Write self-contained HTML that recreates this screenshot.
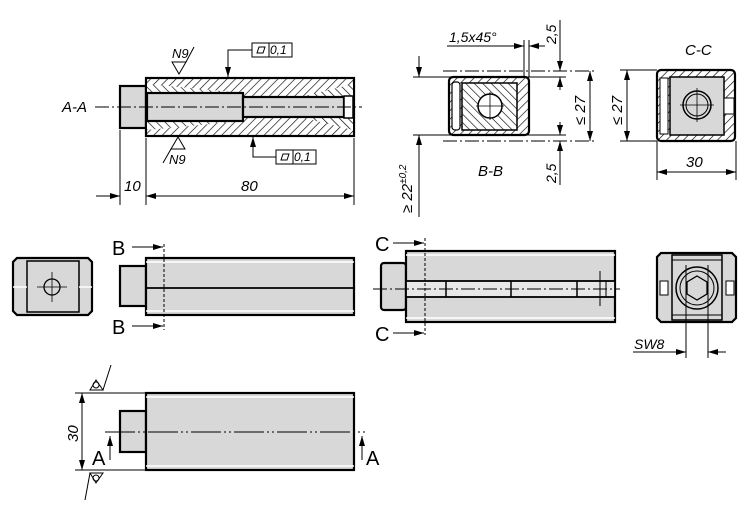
<!DOCTYPE html>
<html><head><meta charset="utf-8"><style>
html,body{margin:0;padding:0;background:#fff;width:750px;height:513px;overflow:hidden}
svg{display:block}
text{font-family:"Liberation Sans",sans-serif;font-style:italic;fill:#000}
</style></head><body>
<svg width="750" height="513" viewBox="0 0 750 513" xmlns="http://www.w3.org/2000/svg">
<defs>
<pattern id="h1" width="6" height="6" patternUnits="userSpaceOnUse" patternTransform="rotate(45)"><rect width="6" height="6" fill="#fff"/><line x1="0" y1="0" x2="0" y2="6" stroke="#000" stroke-width="1.3"/></pattern>
<pattern id="h2" width="6" height="6" patternUnits="userSpaceOnUse" patternTransform="rotate(-45)"><rect width="6" height="6" fill="#fff"/><line x1="0" y1="0" x2="0" y2="6" stroke="#000" stroke-width="1.3"/></pattern>
<marker id="ar" viewBox="0 0 10 6" refX="10" refY="3" markerWidth="10" markerHeight="6" markerUnits="userSpaceOnUse" orient="auto-start-reverse"><path d="M0,0L10,3L0,6z" fill="#000"/></marker>
</defs>
<g stroke="#000" fill="none">
<!-- A-A section -->
<rect x="120" y="86" width="26" height="42" fill="#d8d8d8" stroke-width="2.2"/>
<rect x="146" y="78" width="208" height="58" fill="url(#h1)" stroke-width="2.2"/>
<path d="M147,84 L243,93 L243,121 L147,130 Z" fill="url(#h2)" stroke="none"/>
<path d="M353,84 L300,97 L300,117 L353,130 Z" fill="url(#h2)" stroke="none"/>
<rect x="147" y="93" width="96" height="28" fill="#d8d8d8" stroke-width="2.2"/>
<rect x="243" y="97" width="101" height="20" fill="#d8d8d8" stroke-width="2.2"/>
<rect x="344" y="96" width="9" height="22" fill="#fff" stroke-width="1.5"/>
<line x1="95" y1="107" x2="362" y2="107" stroke-width="1" stroke-dasharray="14,3,2,3"/>
<line x1="120" y1="130" x2="120" y2="205" stroke-width="1"/>
<line x1="146" y1="138" x2="146" y2="205" stroke-width="1"/>
<line x1="354" y1="138" x2="354" y2="205" stroke-width="1"/>
<line x1="96" y1="196" x2="120" y2="196" stroke-width="1" marker-end="url(#ar)"/>
<line x1="146" y1="196" x2="354" y2="196" stroke-width="1" marker-start="url(#ar)" marker-end="url(#ar)"/>
<path d="M172,62 L186,62 L179,74 Z" stroke-width="1"/>
<line x1="186" y1="62" x2="194" y2="47" stroke-width="1"/>
<path d="M252,50 L228,50 L228,77" stroke-width="1" marker-end="url(#ar)"/>
<rect x="252" y="43" width="40" height="14" stroke-width="1"/>
<line x1="269" y1="43" x2="269" y2="57" stroke-width="1"/>
<path d="M257,53 L259,47 L265,47 L263,53Z" stroke-width="1"/>
<path d="M171,149 L185,149 L178,137 Z" stroke-width="1"/>
<line x1="171" y1="149" x2="163" y2="163" stroke-width="1"/>
<path d="M276,157 L253,157 L253,137" stroke-width="1" marker-end="url(#ar)"/>
<rect x="276" y="150" width="40" height="14" stroke-width="1"/>
<line x1="293" y1="150" x2="293" y2="164" stroke-width="1"/>
<path d="M281,160 L283,154 L289,154 L287,160Z" stroke-width="1"/>

<!-- B-B -->
<line x1="443" y1="71" x2="596" y2="71" stroke-width="1" stroke-dasharray="14,3,2,3"/>
<line x1="443" y1="141" x2="596" y2="141" stroke-width="1" stroke-dasharray="14,3,2,3"/>
<line x1="413" y1="77" x2="566" y2="77" stroke-width="1"/>
<line x1="413" y1="135" x2="566" y2="135" stroke-width="1"/>
<rect x="449" y="77" width="80" height="58" rx="4" fill="url(#h1)" stroke-width="2.2"/>
<rect x="462" y="83" width="55" height="47" fill="url(#h2)" stroke-width="1.5"/>
<rect x="452" y="82" width="8" height="48" rx="3" fill="#fff" stroke-width="1.2"/>
<circle cx="490" cy="106" r="12" fill="#fff" stroke-width="1.5"/>
<line x1="476" y1="106" x2="504" y2="106" stroke-width="0.8"/><line x1="490" y1="92" x2="490" y2="120" stroke-width="0.8"/>
<line x1="419" y1="56" x2="419" y2="77" stroke-width="1" marker-end="url(#ar)"/>
<line x1="419" y1="217" x2="419" y2="135" stroke-width="1" marker-end="url(#ar)"/>
<line x1="590" y1="71" x2="590" y2="141" stroke-width="1" marker-start="url(#ar)" marker-end="url(#ar)"/>
<line x1="560" y1="20" x2="560" y2="71" stroke-width="1" marker-end="url(#ar)"/>
<line x1="560" y1="77" x2="560" y2="90" stroke-width="1" marker-start="url(#ar)"/>
<line x1="560" y1="122" x2="560" y2="135" stroke-width="1" marker-end="url(#ar)"/>
<line x1="560" y1="185" x2="560" y2="141" stroke-width="1" marker-end="url(#ar)"/>
<line x1="447" y1="46" x2="524" y2="46" stroke-width="1" marker-end="url(#ar)"/>
<line x1="545" y1="46" x2="529" y2="46" stroke-width="1" marker-end="url(#ar)"/>
<line x1="524" y1="40" x2="524" y2="77" stroke-width="1"/><line x1="529" y1="40" x2="529" y2="77" stroke-width="1"/>

<!-- C-C -->
<rect x="657" y="70" width="78" height="71" rx="4" fill="url(#h1)" stroke-width="2.2"/>
<rect x="670" y="77" width="54" height="58" fill="#d8d8d8" stroke-width="1.5"/>
<rect x="660" y="78" width="8" height="56" fill="#fff" stroke-width="1"/>
<rect x="724" y="98" width="10" height="16" fill="#fff" stroke-width="1"/>
<circle cx="697" cy="105" r="14" stroke-width="1.5"/><circle cx="697" cy="105" r="11" stroke-width="1"/>
<line x1="680" y1="105" x2="714" y2="105" stroke-width="0.8"/><line x1="697" y1="88" x2="697" y2="122" stroke-width="0.8"/>
<line x1="620" y1="70" x2="657" y2="70" stroke-width="1"/><line x1="620" y1="141" x2="657" y2="141" stroke-width="1"/>
<line x1="627" y1="70" x2="627" y2="141" stroke-width="1" marker-start="url(#ar)" marker-end="url(#ar)"/>
<line x1="657" y1="141" x2="657" y2="180" stroke-width="1"/><line x1="736" y1="141" x2="736" y2="180" stroke-width="1"/>
<line x1="657" y1="172" x2="736" y2="172" stroke-width="1" marker-start="url(#ar)" marker-end="url(#ar)"/>

<!-- middle left end view -->
<path d="M17,258 L88,258 L92,262 L92,311 L88,315 L17,315 L13,311 L13,262Z" fill="#d8d8d8" stroke-width="2.2"/>
<rect x="27" y="261" width="52" height="51" stroke-width="1.5"/>
<line x1="13" y1="287" x2="27" y2="287" stroke="#fff" stroke-width="1.5"/>
<line x1="79" y1="287" x2="92" y2="287" stroke="#fff" stroke-width="1.5"/>
<circle cx="52" cy="287" r="8" stroke-width="1.3"/>
<line x1="37" y1="287" x2="67" y2="287" stroke-width="0.8"/><line x1="52" y1="272" x2="52" y2="302" stroke-width="0.8"/>
<!-- middle side view -->
<rect x="120" y="266" width="26" height="40" fill="#d8d8d8" stroke-width="2.2"/>
<rect x="146" y="258" width="208" height="57" fill="#d8d8d8" stroke-width="2.2"/>
<line x1="146" y1="262" x2="354" y2="262" stroke="#fff" stroke-width="1.5"/>
<line x1="146" y1="311" x2="354" y2="311" stroke="#fff" stroke-width="1.5"/>
<line x1="146" y1="288" x2="354" y2="288" stroke-width="1.8"/>
<line x1="164" y1="244" x2="164" y2="330" stroke-width="1" stroke-dasharray="3,2"/>
<line x1="132" y1="247" x2="163" y2="247" stroke-width="1" marker-end="url(#ar)"/>
<line x1="132" y1="326" x2="163" y2="326" stroke-width="1" marker-end="url(#ar)"/>

<!-- middle right side view -->
<rect x="381" y="263" width="25" height="47" rx="3" fill="#d8d8d8" stroke-width="2.2"/>
<rect x="406" y="251" width="209" height="71" fill="#d8d8d8" stroke-width="2.2"/>
<line x1="406" y1="255" x2="615" y2="255" stroke="#fff" stroke-width="1.5"/>
<line x1="406" y1="318" x2="615" y2="318" stroke="#fff" stroke-width="1.5"/>
<rect x="406" y="281" width="209" height="16" fill="#e8e8e8" stroke-width="1.8"/>
<line x1="446" y1="281" x2="446" y2="297" stroke-width="1.5"/><line x1="511" y1="281" x2="511" y2="297" stroke-width="1.5"/><line x1="577" y1="281" x2="577" y2="297" stroke-width="1.5"/>
<line x1="600" y1="271" x2="600" y2="306" stroke-width="1"/><line x1="606" y1="281" x2="606" y2="297" stroke-width="1"/>
<line x1="373" y1="289" x2="620" y2="289" stroke-width="1" stroke-dasharray="14,3,2,3"/>
<line x1="425" y1="238" x2="425" y2="335" stroke-width="1" stroke-dasharray="3,2"/>
<line x1="393" y1="243" x2="424" y2="243" stroke-width="1" marker-end="url(#ar)"/>
<line x1="393" y1="333" x2="424" y2="333" stroke-width="1" marker-end="url(#ar)"/>

<!-- right end view -->
<path d="M661,253 L732,253 L736,257 L736,318 L732,322 L661,322 L657,318 L657,257Z" fill="#d8d8d8" stroke-width="2.2"/>
<rect x="672" y="255" width="50" height="65" stroke-width="1.5"/>
<line x1="672" y1="260" x2="722" y2="260" stroke-width="1"/><line x1="672" y1="315" x2="722" y2="315" stroke-width="1"/>
<rect x="660" y="281" width="8" height="14" fill="#fff" stroke-width="1"/><rect x="726" y="281" width="8" height="14" fill="#fff" stroke-width="1"/>
<circle cx="697" cy="288" r="21" stroke-width="1.5"/><circle cx="697" cy="288" r="17" stroke-width="1"/>
<path d="M697,276 L707,282 L707,294 L697,300 L687,294 L687,282Z" stroke-width="1.3"/>
<line x1="686" y1="265" x2="686" y2="358" stroke-width="1"/><line x1="708" y1="265" x2="708" y2="358" stroke-width="1"/>
<line x1="633" y1="352" x2="686" y2="352" stroke-width="1" marker-end="url(#ar)"/>
<line x1="726" y1="352" x2="708" y2="352" stroke-width="1" marker-end="url(#ar)"/>

<!-- bottom view -->
<rect x="120" y="411" width="26" height="41" fill="#d8d8d8" stroke-width="2.2"/>
<rect x="146" y="393" width="208" height="77" fill="#d8d8d8" stroke-width="2.2"/>
<line x1="146" y1="397" x2="354" y2="397" stroke="#fff" stroke-width="1.5"/>
<line x1="146" y1="466" x2="354" y2="466" stroke="#fff" stroke-width="1.5"/>
<line x1="105" y1="432" x2="365" y2="432" stroke-width="1" stroke-dasharray="30,3,2,3,2,3"/>
<line x1="75" y1="393" x2="146" y2="393" stroke-width="1"/><line x1="75" y1="470" x2="146" y2="470" stroke-width="1"/>
<line x1="82" y1="393" x2="82" y2="470" stroke-width="1" marker-start="url(#ar)" marker-end="url(#ar)"/>
<line x1="110" y1="460" x2="110" y2="436" stroke-width="1" marker-end="url(#ar)"/>
<line x1="362" y1="460" x2="362" y2="436" stroke-width="1" marker-end="url(#ar)"/>
<path d="M90,390 L103,390 L96,380Z" stroke-width="1"/><circle cx="96" cy="385" r="3" stroke-width="1"/><line x1="103" y1="390" x2="111" y2="365" stroke-width="1"/>
<path d="M90,473 L103,473 L96,483Z" stroke-width="1"/><circle cx="96" cy="478" r="3" stroke-width="1"/><line x1="90" y1="473" x2="85" y2="500" stroke-width="1"/>
</g>
<g font-size="15">
<text x="62" y="112">A-A</text>
<text x="124" y="191">10</text>
<text x="241" y="191">80</text>
<text x="172" y="58" font-size="13">N9</text>
<text x="169" y="164" font-size="13">N9</text>
<text x="270" y="54" font-size="12">0,1</text>
<text x="294" y="161" font-size="12">0,1</text>
<text x="449" y="42" font-size="14">1,5x45°</text>
<text x="478" y="176">B-B</text>
<text x="685" y="55">C-C</text>
<text x="686" y="167">30</text>
<text x="634" y="349" font-size="14">SW8</text>
<text transform="translate(556,44) rotate(-90)" font-size="14">2,5</text>
<text transform="translate(556,183) rotate(-90)" font-size="14">2,5</text>
<text transform="translate(585,125) rotate(-90)" font-size="15">≤ 27</text>
<text transform="translate(622,125) rotate(-90)" font-size="15">≤ 27</text>
<text transform="translate(412,213) rotate(-90)" font-size="15">≥ 22<tspan font-size="10" dy="-6">±0,2</tspan></text>
<text transform="translate(78,442) rotate(-90)" font-style="normal">30</text>
</g>
<g font-size="20">
<text x="112" y="255" style="font-style:normal">B</text>
<text x="112" y="334" style="font-style:normal">B</text>
<text x="375" y="251" style="font-style:normal">C</text>
<text x="375" y="341" style="font-style:normal">C</text>
<text x="92" y="465" style="font-style:normal">A</text>
<text x="366" y="465" style="font-style:normal">A</text>
</g>
</svg>
</body></html>
